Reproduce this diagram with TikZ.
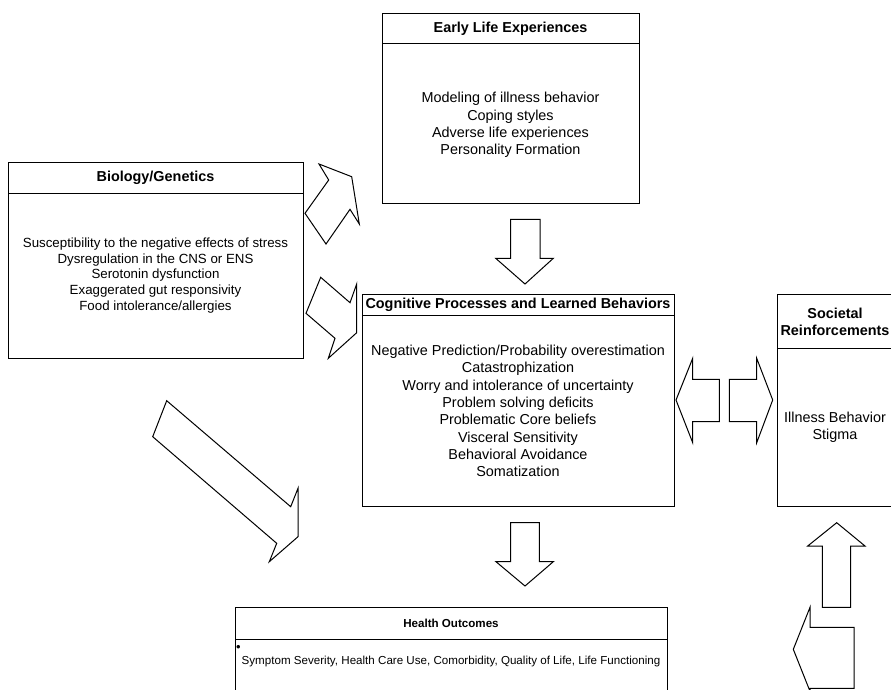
\documentclass[tikz,border=0pt]{standalone}
\usepackage{fontspec}
\setmainfont{Liberation Sans}
\usepackage{tikz}
\usetikzlibrary{positioning}

\tikzset{
  panel/.style={draw, line width=1pt},
  blockarrow/.style={draw, line width=1pt, fill=white, line join=miter},
  boxtitle/.style={font=\bfseries\fontsize{14.4}{17.3}\selectfont, align=center, inner sep=0pt},
  boxtext/.style={font=\fontsize{14.4}{17.3}\selectfont, align=center, inner sep=0pt}
}

\begin{document}
\begin{tikzpicture}[x=1pt, y=-1pt]
  \clip (0,0) rectangle (891,689);
  % panels
  \draw[panel] (8,162) rectangle (303,358);
  \draw[panel] (8,193) -- (303,193);
  \node[boxtitle] (bioT) at (155.5,177.5) {Biology/Genetics};
  \node[boxtext, font=\fontsize{13.3}{15.7}\selectfont] (bioB) at (155.5,275.5)
    {Susceptibility to the negative effects of stress\\ Dysregulation in the CNS or ENS\\
     Serotonin dysfunction\\ Exaggerated gut responsivity\\ Food intolerance/allergies};

  \draw[panel] (382,13) rectangle (639,203);
  \draw[panel] (382,43) -- (639,43);
  \node[boxtitle] (earlyT) at (510.5,28.5) {Early Life Experiences};
  \node[boxtext] (earlyB) at (510.5,125)
    {Modeling of illness behavior\\ Coping styles\\ Adverse life experiences\\ Personality Formation};

  \draw[panel] (362,294) rectangle (674,506);
  \draw[panel] (362,315) -- (674,315);
  \node[boxtitle] (cogT) at (518,305) {Cognitive Processes and Learned Behaviors};
  \node[boxtext] (cogB) at (518,411)
    {Negative Prediction/Probability overestimation\\ Catastrophization\\
     Worry and intolerance of uncertainty\\ Problem solving deficits\\ Problematic Core beliefs\\
     Visceral Sensitivity\\ Behavioral Avoidance\\ Somatization};

  \draw[panel] (777,294) rectangle (893,506);
  \draw[panel] (777,348) -- (893,348);
  \node[boxtitle] (socT) at (835,321.5) {Societal\\ Reinforcements};
  \node[boxtext] (socB) at (835,427.5) {Illness Behavior\\ Stigma};

  \draw[panel] (235,607) rectangle (667,700);
  \draw[panel] (235,639) -- (667,639);
  \node[boxtitle, font=\bfseries\fontsize{11.6}{14}\selectfont] (healthT) at (451,623) {Health Outcomes};
  \node[boxtext, font=\fontsize{13}{14}\selectfont] (bullet) at (238.5,648.5) {•};
  \node[boxtext, font=\fontsize{11.6}{14}\selectfont] (healthB) at (451,661)
    {Symptom Severity, Health Care Use, Comorbidity, Quality of Life, Life Functioning};

  % block arrows
  \draw[blockarrow] (319,164) -- (328.7,180) -- (305,213.3) -- (326,244) -- (350,209.3)
    -- (359.3,224) -- (351.7,176.7) -- cycle;
  \draw[blockarrow] (320.7,277.3) -- (350,302.7) -- (356.7,284) -- (356.7,332.7) -- (328.3,358.3)
    -- (335,338.3) -- (306,313.3) -- cycle;
  \draw[blockarrow] (166.7,400.7) -- (290.7,506.7) -- (298,488.3) -- (298,536.7) -- (269.3,561.7)
    -- (276.7,543.3) -- (152.7,436.7) -- cycle;
  \draw[blockarrow] (510.7,219.3) -- (540,219.3) -- (540,258.3) -- (553.3,258.3) -- (525,284)
    -- (495.7,258.3) -- (510.7,258.3) -- cycle;
  \draw[blockarrow] (510.7,522.7) -- (539.3,522.7) -- (539.3,561.7) -- (553.3,561.7) -- (525,586)
    -- (496,561.7) -- (510.7,561.7) -- cycle;
  \draw[blockarrow] (676,400) -- (692.7,358.3) -- (692.7,379.3) -- (719.3,379.3) -- (719.3,421.7)
    -- (692.7,421.7) -- (692.7,442.7) -- cycle;
  \draw[blockarrow] (772.7,400) -- (756.7,358.3) -- (756.7,379.3) -- (729.3,379.3) -- (729.3,421.7)
    -- (756.7,421.7) -- (756.7,442.7) -- cycle;
  \draw[blockarrow] (836.7,522.7) -- (865,546) -- (850.7,546) -- (850.7,607.3) -- (822.3,607.3)
    -- (822.3,546) -- (807.7,546) -- cycle;
  \draw[blockarrow] (793.3,649.3) -- (810,607.3) -- (810,627.3) -- (854,627.3) -- (854,688.3)
    -- (810,688.3) -- (810,691.3) -- cycle;
\end{tikzpicture}
\end{document}
